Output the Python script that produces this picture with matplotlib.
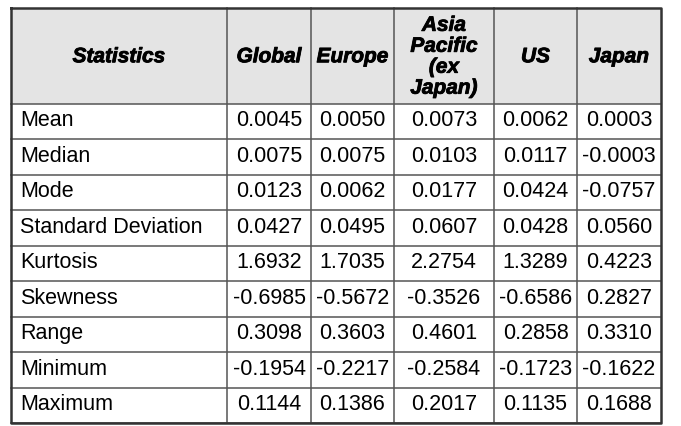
import numpy as np
import matplotlib.pyplot as plt
import matplotlib.patheffects as pe

# table contents
header = ["Statistics", "Global", "Europe", "Asia\nPacific\n(ex\nJapan)", "US", "Japan"]
stats = ["Mean", "Median", "Mode", "Standard Deviation", "Kurtosis",
         "Skewness", "Range", "Minimum", "Maximum"]
global_vals = [0.0045, 0.0075, 0.0123, 0.0427, 1.6932, -0.6985, 0.3098, -0.1954, 0.1144]
europe_vals = [0.0050, 0.0075, 0.0062, 0.0495, 1.7035, -0.5672, 0.3603, -0.2217, 0.1386]
asia_vals = [0.0073, 0.0103, 0.0177, 0.0607, 2.2754, -0.3526, 0.4601, -0.2584, 0.2017]
us_vals = [0.0062, 0.0117, 0.0424, 0.0428, 1.3289, -0.6586, 0.2858, -0.1723, 0.1135]
japan_vals = [0.0003, -0.0003, -0.0757, 0.0560, 0.4223, 0.2827, 0.3310, -0.1622, 0.1688]

columns = [global_vals, europe_vals, asia_vals, us_vals, japan_vals]

# layout in pixels
col_edges = [11, 227, 311, 394, 494, 577, 661]
top, head_bottom, bottom = 9, 104.5, 424
row_h = (bottom - head_bottom) / len(stats)

plt.rcParams['font.family'] = ['Liberation Sans', 'DejaVu Sans']

fig = plt.figure(figsize=(6.81, 4.27), dpi=100)
ax = fig.add_axes([0, 0, 1, 1])
ax.set_xlim(0, 681)
ax.set_ylim(427, 0)
ax.axis("off")

# header background
ax.fill_between([col_edges[0], col_edges[-1]], top, head_bottom, color="#e4e4e4", lw=0)

# grid lines
for x in col_edges[1:-1]:
    ax.plot([x, x], [top, bottom], color="#555555", lw=1.1)
for i in range(len(stats) + 1):
    y = head_bottom + i * row_h
    ax.plot([col_edges[0], col_edges[-1]], [y, y], color="#555555", lw=1.1)

# outer border
ax.plot([col_edges[0], col_edges[-1], col_edges[-1], col_edges[0], col_edges[0]],
        [top, top, bottom, bottom, top], color="#333333", lw=1.8)

# header text, heavy italic
for j, h in enumerate(header):
    xc = (col_edges[j] + col_edges[j + 1]) / 2
    ax.text(xc, (top + head_bottom) / 2 + 1, h, ha="center", va="center",
            fontsize=15, fontweight="bold", fontstyle="italic",
            linespacing=1.13, color="black",
            path_effects=[pe.withStroke(linewidth=0.6, foreground="black")])

# body
for i, s in enumerate(stats):
    yc = head_bottom + (i + 0.5) * row_h - 1.5
    ax.text(col_edges[0] + 9, yc, s, ha="left", va="center", fontsize=15.5)
    for j, vals in enumerate(columns):
        xc = (col_edges[j + 1] + col_edges[j + 2]) / 2
        ax.text(xc, yc, f"{vals[i]:.4f}", ha="center", va="center", fontsize=15.5)

fig.savefig("out.png", dpi=100)
